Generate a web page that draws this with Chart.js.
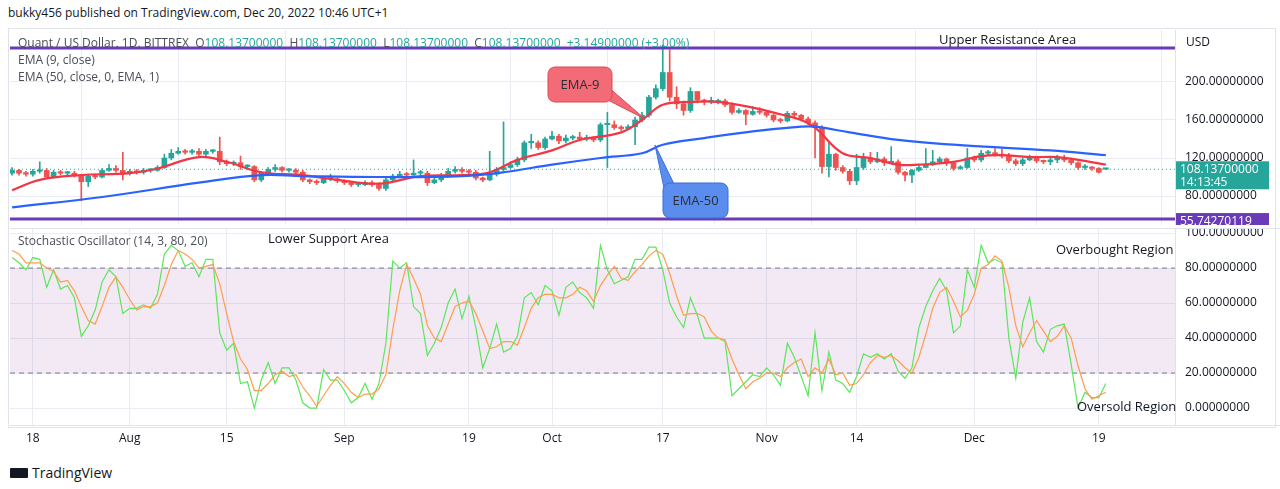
<!DOCTYPE html>
<html>
<head>
<meta charset="utf-8">
<script src="https://cdn.jsdelivr.net/npm/chart.js@4/dist/chart.umd.min.js"></script>
<style>
  body { margin: 0; background: #fff; font-family: "Open Sans", "DejaVu Sans", sans-serif; color: #131722; }
  #wrap { position: relative; width: 1280px; height: 489px; overflow: hidden; }
  canvas { position: absolute; left: 0; }
  .t { position: absolute; font-size: 12px; white-space: nowrap; }
  .note { position: absolute; font-size: 13px; white-space: nowrap; color: #131722; }
  .v { color: #26a69a; }
</style>
</head>
<body>
<div id="wrap">
  <div class="t" style="left:8px;top:4px;">bukky456 published on TradingView.com, Dec 20, 2022 10:46 UTC+1</div>
  <div style="position:absolute;left:8px;top:28px;width:1266px;height:398px;border:1px solid #e0e3eb;"></div>
  <canvas id="main" width="1280" height="195" style="top:30px;"></canvas>
  <canvas id="osc" width="1280" height="232" style="top:228px;"></canvas>
  <div class="t" style="left:18px;top:34px;color:#4a4e59;">Quant / US Dollar, 1D, BITTREX&nbsp; O<span class="v">108.13700000</span>&nbsp; H<span class="v">108.13700000</span>&nbsp; L<span class="v">108.13700000</span>&nbsp; C<span class="v">108.13700000</span>&nbsp; <span class="v">+3.14900000 (+3.00%)</span></div>
  <div class="t" style="left:18px;top:51px;color:#4a4e59;">EMA (9, close)</div>
  <div class="t" style="left:18px;top:68px;color:#4a4e59;">EMA (50, close, 0, EMA, 1)</div>
  <div class="t" style="left:18px;top:232px;color:#4a4e59;">Stochastic Oscillator (14, 3, 80, 20)</div>
  <div class="note" style="left:939px;top:30px;">Upper Resistance Area</div>
  <div class="note" style="left:268px;top:229px;">Lower Support Area</div>
  <div class="note" style="left:1056px;top:240px;">Overbought Region</div>
  <div class="note" style="left:1077px;top:397px;">Oversold Region</div>
  <div class="t" style="left:1186px;top:33px;color:#131722;">USD</div>
  <div style="position:absolute;left:10px;top:463px;font-size:14px;font-weight:bold;color:#131722;">
    <span style="display:inline-block;width:18px;height:10px;background:#131722;border-radius:1px;margin-right:4px;"></span><span style="font-weight:normal;">TradingView</span>
  </div>
</div>
<script>
// daily candles from Jul 15 (index 0) to Dec 20 (index 158)
const closes = [107,104,103,106,107,100,105,104,104,102,95,101,100,107,109,107,104,106,105,107,107,110,120,125,127,126,127,124,127,127,
  116,114,115,111,111,97,104,108,110,107,107,105,97,95,94,98,98,96,94,92,92,94,92,88,97,101,103,102,104,104,
  94,97,101,106,108,106,105,99,97,103,108,110,113,118,136,136,131,140,143,138,141,142,140,141,139,155,155,152,151,153,
  160,165,184,193,210,184,177,170,190,181,179,179,180,176,168,170,166,169,168,165,160,159,167,165,161,157,152,111,124,110,
  106,96,110,120,116,119,115,116,105,102,107,110,113,116,119,115,109,110,120,118,125,125,124,122,117,114,118,121,117,116,
  118,120,118,115,110,110,109,104.988,108.137];
const highs = [110,108,106,108,116,109,107,107,106,106,103,103,103,109,113,112,126,108,108,109,109,112,124,129,131,129,129,130,129,129,
  142,118,117,122,113,112,106,110,113,111,109,109,107,98,97,100,103,99,97,95,94,96,96,94,99,103,106,105,118,107,
  106,99,104,109,111,110,108,107,100,127,110,158,116,121,138,145,138,142,148,145,144,144,147,144,142,157,168,159,154,155,
  163,168,186,197,239,234,195,180,194,183,182,184,182,182,178,172,171,174,173,170,166,162,169,169,166,163,159,154,136,125,
  112,108,124,125,126,126,121,132,118,106,108,112,130,128,121,120,116,112,130,122,128,128,130,130,125,119,120,123,122,118,
  120,123,123,120,116,113,111,110,108.137];
const lows = [102,102,101,101,104,98,99,102,102,100,75,90,98,99,106,105,97,102,103,103,105,106,109,118,124,124,124,122,122,125,
  113,112,112,108,109,95,95,102,106,105,105,102,95,93,92,93,96,94,92,90,90,91,90,86,86,95,100,100,101,102,
  91,93,95,100,104,104,101,97,95,96,101,106,109,111,116,130,129,129,139,135,136,139,138,138,137,137,110,150,149,150,
  134,158,163,182,191,180,172,165,168,178,176,177,177,174,166,167,155,165,166,163,158,157,158,163,159,155,120,104,100,107,
  104,92,92,108,114,115,112,114,103,96,94,106,110,112,114,112,107,108,109,116,116,123,122,120,115,112,112,117,115,114,
  113,115,116,113,108,108,107,104,108.137];

// EMA lines: [day index, value]
const ema9Pts = [[0,86],[4,97],[10,102],[17,104],[21,109],[27,121],[31,116],[36,105],[42,102],[47,97],[53,93],[59,101],[65,102],
  [69,105],[73,118],[78,128],[82,139],[88,147],[91,160],[94,176],[98,179],[102,179],[107,173],[111,166],[114,160],[116,152],
  [120,125],[124,120],[128,113],[131,113],[136,116],[140,122],[143,123],[147,121],[151,121],[154,118],[158,113]];
const ema50Pts = [[0,68],[13,79],[27,94],[36,102],[42,101],[53,100],[65,101],[71,105],[78,113],[85,120],[91,125],[94,134],
  [100,141],[107,148],[114,153],[116,153],[121,147],[128,139],[136,134],[143,131],[150,128],[158,123]];

// stochastic %K and %D
const stochK = [86,83,79,86,85,69,79,68,70,63,41,47,56,72,79,75,54,57,57,59,57,65,88,93,90,81,83,75,85,85,
  43,33,37,14,15,0,16,26,14,23,23,16,3,0,0,22,16,16,10,3,6,14,5,14,37,84,80,83,58,54,
  30,37,46,60,68,51,64,46,23,34,48,32,34,41,63,66,59,70,67,53,69,72,66,63,57,93,79,71,73,75,
  85,85,92,92,79,60,52,46,63,53,40,40,40,38,7,11,15,19,18,23,19,13,37,29,18,7,43,10,32,16,
  14,9,18,31,29,31,28,31,21,17,23,46,58,67,74,67,43,47,79,69,93,83,85,83,40,17,49,63,38,32,
  45,47,48,25,0,9,6,6,14];
const stochD = [90,88,83,83,83,80,78,72,73,67,58,50,48,58,69,75,69,62,56,58,58,60,70,82,90,88,85,80,81,82,
  71,54,38,28,22,10,10,14,19,21,18,19,12,7,1,7,13,18,14,9,6,8,8,11,19,45,67,82,74,65,
  47,40,38,48,58,60,61,54,44,34,35,38,38,36,46,57,63,65,65,63,63,65,69,67,61,70,76,81,74,73,
  78,82,87,90,88,77,64,53,54,54,52,44,40,39,28,19,11,15,17,20,20,18,23,26,28,18,23,20,28,19,
  20,13,14,19,26,30,29,30,27,23,20,29,42,57,66,69,61,52,56,65,80,82,87,84,69,47,35,43,50,44,
  38,41,47,40,24,11,5,7,9];

const priceTicks = [80, 120, 160, 200];
const oscTicks = [0, 20, 40, 60, 80, 100];
const dateTicks = [3, 17, 31, 48, 66, 78, 94, 109, 122, 139, 157];
const dateLabels = ["18", "Aug", "15", "Sep", "19", "Oct", "17", "Nov", "14", "Dec", "19"];
const resistance = 235.8;
const support = 55.74270119;
const lastPrice = 108.137;

const UP = "#26a69a", DOWN = "#ef5350", PURPLE = "#6a3ab8";
const FONT = { family: "'Open Sans', 'DejaVu Sans', sans-serif", size: 12 };
const X_MIN = -0.3, X_MAX = 168;

const opens = closes.map((c, i) => (i === 0 ? 104 : closes[i - 1]));
opens[opens.length - 1] = closes[closes.length - 1];
const colors = closes.map((c, i) => (c >= opens[i] ? UP : DOWN));

// kill the automatic label padding so the plot area fills the canvas
function noPad(s) {
  s.paddingTop = 0; s.paddingBottom = 0; s.paddingLeft = 0; s.paddingRight = 0;
}

const xGrid = {
  type: "linear", min: X_MIN, max: X_MAX, offset: false,
  afterBuildTicks: (s) => { s.ticks = dateTicks.map((v) => ({ value: v })); },
  grid: { color: "#e9edf3", drawTicks: false },
  border: { display: false }
};

function pxLabel(ctx, text, x, y, w, h, bg, fg, text2) {
  ctx.fillStyle = bg;
  ctx.fillRect(x, y, w, h);
  ctx.fillStyle = fg;
  ctx.font = "12px " + FONT.family;
  ctx.textBaseline = "middle";
  ctx.textAlign = "left";
  if (text2) {
    ctx.fillText(text, x + 4, y + h / 4 + 1);
    ctx.fillText(text2, x + 4, y + (3 * h) / 4);
  } else {
    ctx.fillText(text, x + 4, y + h / 2 + 1);
  }
}

function callout(ctx, box, tip, base, fill, stroke, label) {
  ctx.save();
  ctx.fillStyle = fill;
  ctx.strokeStyle = stroke;
  ctx.lineWidth = 1;
  ctx.beginPath();
  ctx.moveTo(base[0][0], base[0][1]);
  ctx.lineTo(tip[0], tip[1]);
  ctx.lineTo(base[1][0], base[1][1]);
  ctx.closePath();
  ctx.fill();
  ctx.stroke();
  ctx.beginPath();
  ctx.roundRect(box[0], box[1], box[2], box[3], 7);
  ctx.fill();
  ctx.stroke();
  ctx.fillStyle = "#2a2e39";
  ctx.font = "13px " + FONT.family;
  ctx.textAlign = "center";
  ctx.textBaseline = "middle";
  ctx.fillText(label, box[0] + box[2] / 2, box[1] + box[3] / 2 + 1);
  ctx.restore();
}

const mainExtras = {
  id: "mainExtras",
  afterDatasetsDraw(chart) {
    const ctx = chart.ctx, y = chart.scales.y, a = chart.chartArea;
    const py = y.getPixelForValue(lastPrice);
    ctx.save();
    ctx.strokeStyle = UP;
    ctx.setLineDash([1, 3]);
    ctx.beginPath(); ctx.moveTo(a.left, py); ctx.lineTo(a.right, py); ctx.stroke();
    ctx.restore();
    // drawings (canvas top is page y 30)
    callout(ctx, [548, 37, 64, 35], [645, 89], [[600, 50], [600, 66]], "#f26b77", "#d94a55", "EMA-9");
    callout(ctx, [663, 153, 65, 35], [655, 115], [[664, 158], [676, 158]], "#5b8def", "#3a6fd8", "EMA-50");
  },
  afterDraw(chart) {
    const ctx = chart.ctx, y = chart.scales.y, a = chart.chartArea;
    ctx.save();
    ctx.strokeStyle = "#e0e3eb";
    ctx.beginPath(); ctx.moveTo(a.right + 0.5, 0); ctx.lineTo(a.right + 0.5, chart.height); ctx.stroke();
    const py = y.getPixelForValue(lastPrice);
    pxLabel(ctx, lastPrice.toFixed(8), a.right + 1, py - 8, 93, 28, UP, "#fff", "14:13:45");
    const sy = y.getPixelForValue(support);
    pxLabel(ctx, support.toFixed(8), a.right + 1, sy - 6, 93, 16, PURPLE, "#fff");
    ctx.restore();
  }
};

function hline(value) {
  return [{ x: X_MIN, y: value }, { x: X_MAX, y: value }];
}

new Chart(document.getElementById("main"), {
  data: {
    datasets: [
      { type: "line", data: hline(resistance), borderColor: PURPLE, borderWidth: 3, pointRadius: 0, order: 0 },
      { type: "line", data: hline(support), borderColor: PURPLE, borderWidth: 3, pointRadius: 0, order: 0 },
      { type: "line", data: ema50Pts.map((p) => ({ x: p[0], y: p[1] })), borderColor: "#2962ff", borderWidth: 2.2,
        pointRadius: 0, tension: 0.4, order: 1 },
      { type: "line", data: ema9Pts.map((p) => ({ x: p[0], y: p[1] })), borderColor: "#f23645", borderWidth: 2.2,
        pointRadius: 0, tension: 0.4, order: 1 },
      { type: "bar", data: closes.map((c, i) => ({ x: i, y: [opens[i], c] })), backgroundColor: colors,
        barThickness: 5, minBarLength: 1.5, grouped: false, order: 2 },
      { type: "bar", data: closes.map((c, i) => ({ x: i, y: [lows[i], highs[i]] })), backgroundColor: colors,
        barThickness: 1, grouped: false, order: 3 }
    ]
  },
  options: {
    responsive: false, animation: false, events: [],
    layout: { padding: { left: 10 }, autoPadding: false },
    plugins: { legend: { display: false }, tooltip: { enabled: false } },
    scales: {
      x: Object.assign({}, xGrid, { ticks: { display: false }, afterFit: (s) => { s.height = 0; noPad(s); } }),
      y: {
        position: "right", min: 49.5, max: 254.7,
        afterBuildTicks: (s) => { s.ticks = priceTicks.map((v) => ({ value: v })); },
        afterFit: (s) => { s.width = 105; noPad(s); },
        ticks: { color: "#131722", font: FONT, padding: 10, callback: (v) => v.toFixed(8) },
        grid: { color: "#e9edf3", drawTicks: false },
        border: { display: false }
      }
    }
  },
  plugins: [mainExtras]
});

const oscExtras = {
  id: "oscExtras",
  beforeDatasetsDraw(chart) {
    const ctx = chart.ctx, y = chart.scales.y, a = chart.chartArea;
    const y80 = y.getPixelForValue(80), y20 = y.getPixelForValue(20);
    ctx.save();
    ctx.fillStyle = "rgba(149, 71, 161, 0.12)";
    ctx.fillRect(a.left, y80, a.right - a.left, y20 - y80);
    ctx.strokeStyle = "#787b86";
    ctx.setLineDash([5, 4]);
    [y80, y20].forEach((py) => { ctx.beginPath(); ctx.moveTo(a.left, py); ctx.lineTo(a.right, py); ctx.stroke(); });
    ctx.restore();
  },
  afterDraw(chart) {
    const ctx = chart.ctx, a = chart.chartArea;
    ctx.save();
    ctx.strokeStyle = "#e0e3eb";
    ctx.beginPath(); ctx.moveTo(a.right + 0.5, 0); ctx.lineTo(a.right + 0.5, a.bottom); ctx.stroke();
    ctx.beginPath(); ctx.moveTo(a.left, a.bottom + 0.5); ctx.lineTo(chart.width, a.bottom + 0.5); ctx.stroke();
    ctx.beginPath(); ctx.moveTo(a.left, 0.5); ctx.lineTo(chart.width, 0.5); ctx.stroke();
    ctx.restore();
  }
};

new Chart(document.getElementById("osc"), {
  type: "line",
  data: {
    datasets: [
      { data: stochD.map((v, i) => ({ x: i, y: v })), borderColor: "#ff9d4d", borderWidth: 1.2, pointRadius: 0 },
      { data: stochK.map((v, i) => ({ x: i, y: v })), borderColor: "#5ce65c", borderWidth: 1.2, pointRadius: 0 }
    ]
  },
  options: {
    responsive: false, animation: false, events: [],
    layout: { padding: { left: 10 }, autoPadding: false },
    plugins: { legend: { display: false }, tooltip: { enabled: false } },
    scales: {
      x: Object.assign({}, xGrid, {
        ticks: { color: "#131722", font: FONT, padding: 6, maxRotation: 0, autoSkip: false,
          callback: (v) => dateLabels[dateTicks.indexOf(v)] },
        afterFit: (s) => { s.height = 35; noPad(s); }
      }),
      y: {
        position: "right", min: -9.7, max: 102.9,
        afterBuildTicks: (s) => { s.ticks = oscTicks.map((v) => ({ value: v })); },
        afterFit: (s) => { s.width = 105; noPad(s); },
        ticks: { color: "#131722", font: FONT, padding: 10, callback: (v) => v.toFixed(8) },
        grid: { color: "#e9edf3", drawTicks: false },
        border: { display: false }
      }
    }
  },
  plugins: [oscExtras]
});
</script>
</body>
</html>
